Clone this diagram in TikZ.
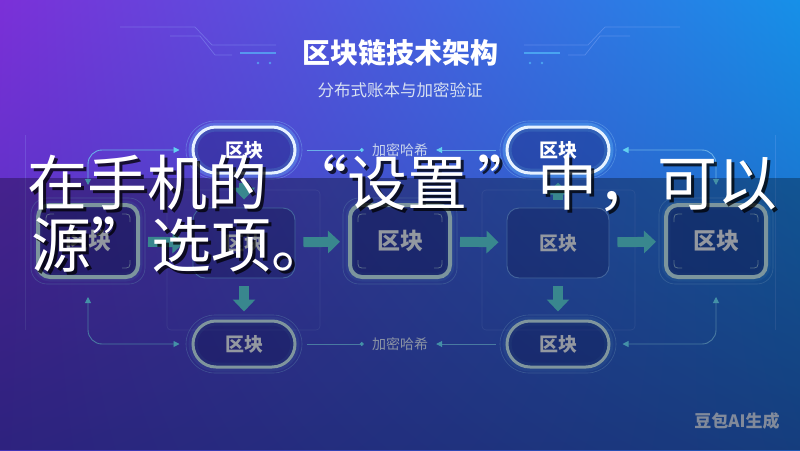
\documentclass[tikz,border=0pt]{standalone}
\usepackage{fontspec}
\setmainfont{Noto Sans CJK SC}
\usetikzlibrary{arrows.meta,calc,shadings}
\definecolor{bgUL}{HTML}{7B30D8}
\definecolor{bgUR}{HTML}{1690E8}
\definecolor{bgLL}{HTML}{4232B6}
\definecolor{bgLR}{HTML}{1F58B4}
\definecolor{pillBright}{HTML}{E6F2FF}
\definecolor{pillGlow}{HTML}{6EC8FF}
\definecolor{pillDim}{HTML}{B6D6E2}
\definecolor{ringC}{HTML}{7FB8F0}
\definecolor{bigBorder}{HTML}{B2D6E2}
\definecolor{simpleBorder}{HTML}{6090E0}
\definecolor{nodeFill}{HTML}{141C6A}
\definecolor{arrowC}{HTML}{52C2CC}
\definecolor{connC}{HTML}{6AB0E8}
\definecolor{tipC}{HTML}{62D0F0}
\definecolor{labelC}{HTML}{C8D4EC}
\definecolor{blockText}{HTML}{D4DAE6}
\definecolor{decoC}{HTML}{9CB8FF}
\definecolor{decoBright}{HTML}{58C8FF}

\newcommand{\pillframe}[3]{% x, y, glow opacity
  \draw[draw=pillGlow, line width=9pt, opacity=#3, rounded corners=23pt] (#1-51,#2-23) rectangle (#1+51,#2+23);
  \draw[draw=ringC, line width=0.6pt, opacity=0.45, rounded corners=29pt] (#1-58,#2-29) rectangle (#1+58,#2+29);
}
\newcommand{\bigframe}[2]{% x, y
  \draw[draw=ringC, line width=0.6pt, opacity=0.45, rounded corners=16pt] (#1-57,#2-43) rectangle (#1+57,#2+43);
  \draw[draw=pillGlow, line width=9pt, opacity=0.12, rounded corners=12pt] (#1-50,#2-36) rectangle (#1+50,#2+36);
}
\newcommand{\bigmarks}[2]{% x, y
  \draw[draw=bigBorder, line width=0.8pt, opacity=0.6]
    (#1-42,#2-19) .. controls (#1-42,#2-27) .. (#1-34,#2-27)
    (#1+34,#2-27) .. controls (#1+42,#2-27) .. (#1+42,#2-19)
    (#1-42,#2+19) .. controls (#1-42,#2+27) .. (#1-34,#2+27)
    (#1+34,#2+27) .. controls (#1+42,#2+27) .. (#1+42,#2+19);
}

\begin{document}
\begin{tikzpicture}[x=1pt,y=-1pt,
  pill/.style={rounded corners=23pt, minimum width=102pt, minimum height=46pt,
    line width=3pt, fill=nodeFill, fill opacity=0.35, text opacity=1, inner sep=0pt,
    font=\bfseries\fontsize{19}{19}\selectfont},
  bignode/.style={rounded corners=12pt, minimum width=100pt, minimum height=72pt,
    line width=4pt, draw=bigBorder, fill=nodeFill, fill opacity=0.45, text opacity=1,
    text=blockText, inner sep=0pt, font=\bfseries\fontsize{23}{23}\selectfont},
  simplenode/.style={rounded corners=12pt, minimum width=102pt, minimum height=70pt,
    line width=0.9pt, draw=simpleBorder, fill=nodeFill, fill opacity=0.3, text opacity=1,
    text=blockText, inner sep=0pt, font=\bfseries\fontsize{19}{19}\selectfont},
  blockarrow/.style={draw=arrowC, line width=10pt, -{Triangle[width=22pt,length=12pt]},
    shorten <=8pt, shorten >=8pt},
  conn/.style={draw=connC, line width=0.9pt, rounded corners=14pt,
    {Triangle[length=6pt,width=6pt,color=tipC]}-{Triangle[length=6pt,width=6pt,color=tipC]}},
  hline/.style={draw=connC, line width=0.9pt},
  lbl/.style={text=labelC, font=\fontsize{14}{14}\selectfont, inner sep=4pt},
  faint/.style={draw=decoC, line width=0.6pt, opacity=0.2},
  deco/.style={draw=decoC, line width=0.7pt, opacity=0.35},
  ovtext/.style={font=\fontsize{60}{60}\selectfont, inner sep=0pt, anchor=west}
]
\useasboundingbox (0,0) rectangle (800,450);
\clip (0,0) rectangle (800,450);
\begin{scope}[y=1pt]
  \shade[upper left=bgUL, upper right=bgUR, lower left=bgLL, lower right=bgLR] (0,-450) rectangle (800,0);
\end{scope}

% title decorations
\draw[deco] (120,27) -- (195,27) -- (212,45) -- (276,45);
\draw[deco] (170,36) -- (200,36) -- (215,55) -- (232,55);
\draw[draw=decoBright, line width=1.2pt, opacity=0.6] (240,53) -- (276,53);
\fill[decoBright, opacity=0.6] (258,63) circle (1.4) (270,63) circle (1.4);
\draw[deco] (680,27) -- (605,27) -- (588,45) -- (524,45);
\draw[deco] (630,36) -- (600,36) -- (585,55) -- (568,55);
\draw[draw=decoBright, line width=1.2pt, opacity=0.6] (560,53) -- (524,53);
\fill[decoBright, opacity=0.6] (530,63) circle (1.4) (542,63) circle (1.4);

% faint background frames
\draw[faint] (25,135) -- (25,330);
\draw[faint] (775,135) -- (775,330);
\draw[faint, rounded corners=4pt] (167,190) rectangle (320,330);
\draw[faint, rounded corners=4pt] (482,190) rectangle (635,330);

% titles
\node[text=white, font=\bfseries\fontsize{28}{28}\selectfont] (ttl) at (400,53) {区块链技术架构};
\node[text=labelC!70!white, font=\fontsize{16.5}{16.5}\selectfont] (sub) at (400,90) {分布式账本与加密验证};

% frames and nodes
\pillframe{244}{150}{0.3}
\pillframe{558}{150}{0.3}
\pillframe{244}{344}{0.12}
\pillframe{558}{344}{0.12}
\bigframe{88}{241}
\bigframe{400}{241}
\bigframe{716}{241}

\node[pill, draw=pillBright, text=white] (pTL) at (244,150) {区块};
\node[pill, draw=pillBright, text=white] (pTR) at (558,150) {区块};
\node[pill, draw=pillDim, text=blockText] (pBL) at (244,344) {区块};
\node[pill, draw=pillDim, text=blockText] (pBR) at (558,344) {区块};

\node[bignode] (m1) at (88,241) {区块};
\node[simplenode] (m2) at (244,243) {区块};
\node[bignode] (m3) at (400,241) {区块};
\node[simplenode] (m4) at (558,243) {区块};
\node[bignode] (m5) at (716,241) {区块};
\bigmarks{88}{241}
\bigmarks{400}{241}
\bigmarks{716}{241}

% block arrows
\draw[blockarrow] (m1) -- (m2);
\draw[blockarrow] (m2) -- (m3);
\draw[blockarrow] (m3) -- (m4);
\draw[blockarrow] (m4) -- (m5);
\draw[blockarrow] (pTL) -- (m2);
\draw[blockarrow] (m2) -- (pBL);
\draw[blockarrow] (m4) -- (pTR);
\draw[blockarrow] (m4) -- (pBR);

% thin connectors
\draw[conn] ($(m1.north)+(0,-18)$) |- ($(pTL.west)+(-12,0)$);
\draw[conn] ($(m1.south)+(0,18)$) |- ($(pBL.west)+(-12,0)$);
\draw[conn] ($(pTR.east)+(12,0)$) -| ($(m5.north)+(0,-18)$);
\draw[conn] ($(m5.south)+(0,18)$) |- ($(pBR.east)+(12,0)$);

% hash labels
\node[lbl] (h1) at (400,150) {加密哈希};
\node[lbl] (h2) at (400,344) {加密哈希};
\draw[hline, -{Circle[length=4pt,color=tipC]}] ($(pTL.east)+(10,0)$) -- ($(h1.west)+(-4,0)$);
\draw[hline, -{Triangle[length=6pt,width=6pt,color=tipC]}] ($(pTR.west)+(-10,0)$) -- ($(h1.east)+(4,0)$);
\draw[hline, -{Circle[length=4pt,color=tipC]}] ($(pBL.east)+(10,0)$) -- ($(h2.west)+(-4,0)$);
\draw[hline, -{Triangle[length=6pt,width=6pt,color=tipC]}] ($(pBR.west)+(-10,0)$) -- ($(h2.east)+(4,0)$);

% watermark
\node[text=blockText, opacity=0.85, font=\bfseries\fontsize{17}{17}\selectfont] (wm) at (737,421) {豆包AI生成};

% overlay (darkens everything below its top edge) and subtitle text
\fill[black, opacity=0.3] (0,178) rectangle (800,450);
\node[ovtext, text=black, text opacity=0.75] (ov1s) at (30,186) {在手机的\hspace{20pt}“设置\hspace{10pt}”中，可以};
\node[ovtext, text=white] (ov1) at (27,183) {在手机的\hspace{20pt}“设置\hspace{10pt}”中，可以};
\node[ovtext, text=black, text opacity=0.75] (ov2s) at (34,248) {源”选项。};
\node[ovtext, text=white] (ov2) at (31,245) {源”选项。};
\end{tikzpicture}
\end{document}
